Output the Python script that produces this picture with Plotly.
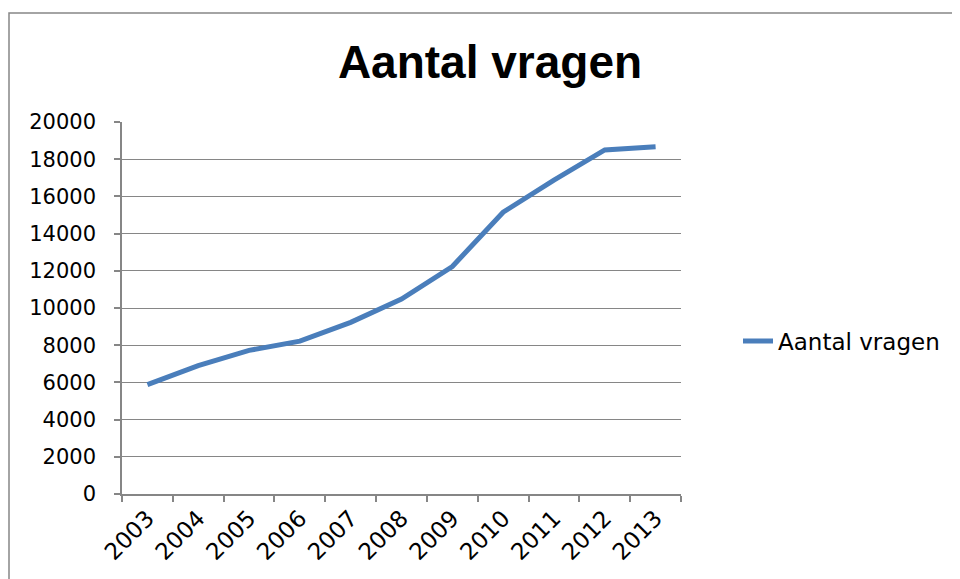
import plotly.graph_objects as go

years = ["2003", "2004", "2005", "2006", "2007", "2008", "2009", "2010", "2011", "2012", "2013"]
aantal_vragen = [5880, 6900, 7720, 8220, 9230, 10480, 12230, 15150, 16880, 18500, 18670]
y_ticks = [0, 2000, 4000, 6000, 8000, 10000, 12000, 14000, 16000, 18000, 20000]

OFF = 8  # page body margin
W, H = 960 - OFF, 579 - OFF
L, T = 122 - OFF, 122 - OFF
pw, ph = 681 - 122, 494 - 122
R = W - L - pw
B = H - T - ph

def px(x):  # page pixel x -> paper
    return (x - OFF - L) / pw

def py(y):  # page pixel y -> paper
    return (T + ph - (y - OFF)) / ph

fig = go.Figure()
fig.add_trace(go.Scatter(
    x=years, y=aantal_vragen, mode="lines", name="Aantal vragen",
    line=dict(color="#4A7EBB", width=5),
))

grey = "#868686"
fig.update_layout(
    width=W, height=H,
    margin=dict(l=L, r=R, t=T, b=B),
    paper_bgcolor="white", plot_bgcolor="white",
    font=dict(family="DejaVu Sans", size=21, color="black"),
    title=dict(text="<b>Aantal vragen</b>", x=(490 - OFF) / W, xref="container", xanchor="center",
               y=1 - (62 - OFF) / H, yref="container", yanchor="middle",
               font=dict(family="Liberation Sans", size=46, color="black")),
    showlegend=True,
    legend=dict(x=px(738), y=py(341), xanchor="left", yanchor="middle",
                font=dict(family="DejaVu Sans", size=23, color="black"),
                bgcolor="rgba(0,0,0,0)"),
    xaxis=dict(type="category", range=[-0.5, 10.5], tickangle=-45,
               tickfont=dict(size=23),
               showline=True, linecolor=grey, linewidth=1.5,
               ticks="outside", ticklen=6, tickcolor=grey, tickwidth=1.5,
               tickson="boundaries", showgrid=False, zeroline=False),
    yaxis=dict(range=[0, 20000], tickvals=y_ticks, ticktext=[str(v) for v in y_ticks],
               tickfont=dict(size=21),
               showline=True, linecolor=grey, linewidth=1.5,
               ticks="outside", ticklen=6, tickcolor=grey, tickwidth=1.5,
               showgrid=True, gridcolor=grey, gridwidth=1.2, zeroline=False,
               ticklabelstandoff=14),
    shapes=[dict(type="rect", xref="paper", yref="paper",
                 x0=px(9), x1=px(1000),
                 y0=py(640), y1=py(13),
                 line=dict(color=grey, width=1.5), fillcolor="rgba(0,0,0,0)", layer="below")],
)

fig.write_html("out.html", config={"displayModeBar": False})
